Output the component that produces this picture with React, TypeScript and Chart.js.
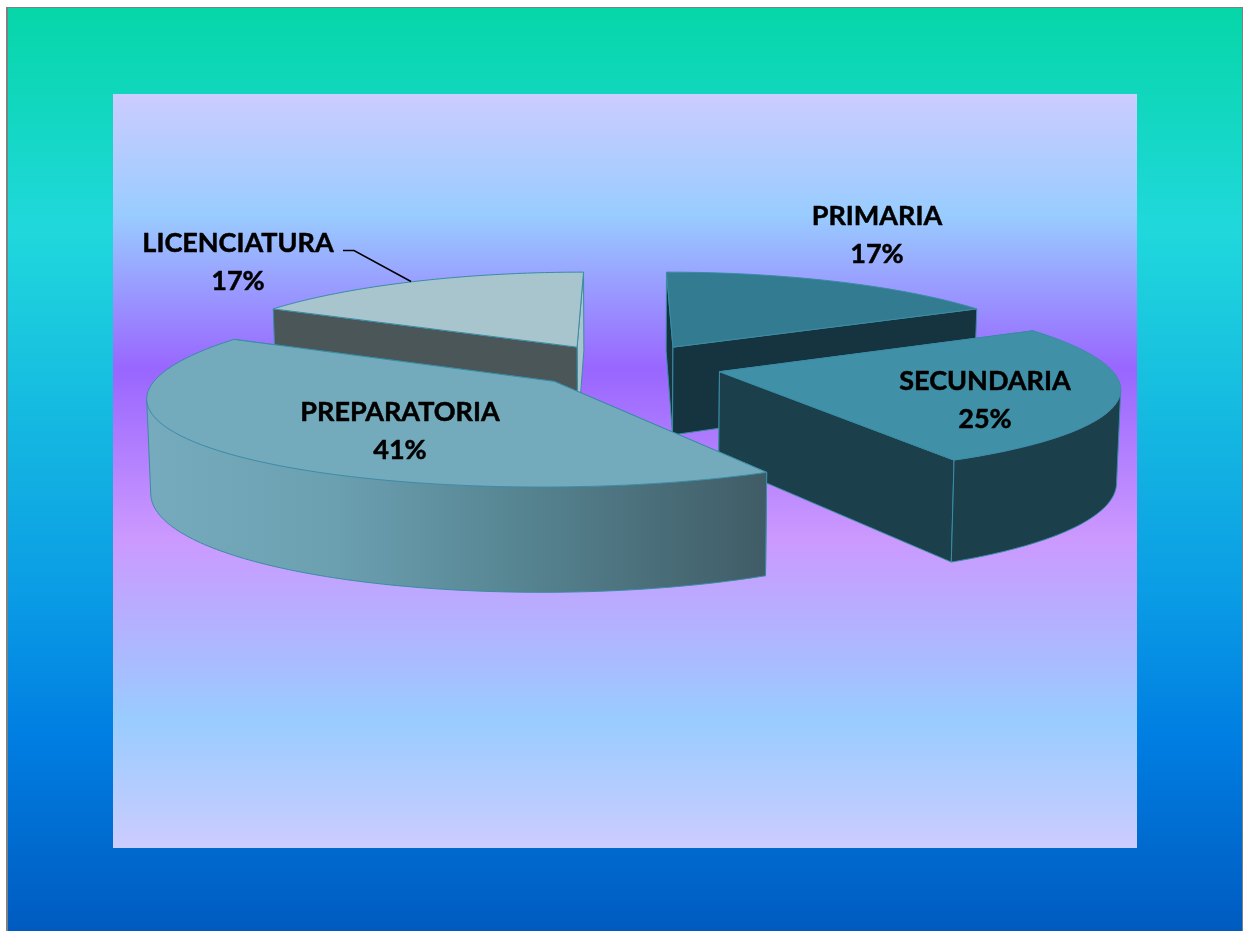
import React, { useEffect, useRef } from "react";
import { Chart, registerables } from "chart.js";

Chart.register(...registerables);

// Series
const categories = ["PRIMARIA", "SECUNDARIA", "PREPARATORIA", "LICENCIATURA"];
const shares = [17, 25, 41, 17];

// Slice styling, in the same order as the categories
const topColors = ["#337B90", "#4091A8", "#73ABBD", "#A8C5CE"];
const wallColors = ["#16343F", "#1B404B", "#73ABBD", "#4B5659"];
const innerSliverColors = ["#16343F", "#1B404B", "#73ABBD", "#A8C5CE"];
const edgeColor = "#3A8CA5";
const explode = 100;

// Label placement: centre x, vertical middle of the first line
const labelX = [877, 985, 400, 238];
const labelY = [216, 381, 412, 243];
const labelGap = 38;
const labelFont = "bold 27px Lato, sans-serif";

// Ground-plane camera used for the tilted pie
const horizonY = -355;
const depthScale = 736;
const perspective = 0.000311;
const lateralPower = 1.28;
const pivotV = -69;
const thickness = 92;
const taper = 0.0084;
const depthStretch = 1.008;

type Pt = { x: number; y: number };

function project(cx: number, u: number, v: number, drop: number): Pt {
  const s = 1 / (1 - perspective * v);
  const x = cx + u * Math.pow(s, lateralPower);
  return {
    x: x + (cx - x) * taper * drop,
    y: horizonY + depthScale * s + thickness * s * drop,
  };
}

function trace(ctx: CanvasRenderingContext2D, pts: Pt[]) {
  ctx.beginPath();
  pts.forEach((p, i) => (i ? ctx.lineTo(p.x, p.y) : ctx.moveTo(p.x, p.y)));
}

function polygon(ctx: CanvasRenderingContext2D, pts: Pt[], fill: string | CanvasGradient) {
  trace(ctx, pts);
  ctx.closePath();
  ctx.fillStyle = fill;
  ctx.fill();
  ctx.lineWidth = 1;
  ctx.strokeStyle = edgeColor;
  ctx.stroke();
}

const backdrop = {
  id: "backdrop",
  beforeDraw(chart: any) {
    const { ctx, width, height } = chart;
    const outer = ctx.createLinearGradient(0, 8, 0, height);
    outer.addColorStop(0, "#06D6A8");
    outer.addColorStop(0.24, "#20D8DC");
    outer.addColorStop(0.64, "#0A9BE5");
    outer.addColorStop(0.79, "#007EE2");
    outer.addColorStop(1, "#005BC0");
    ctx.fillStyle = "#808080";
    ctx.fillRect(6, 7, width - 6, height - 7);
    ctx.fillStyle = outer;
    ctx.fillRect(8, 8, width - 9, height - 8);

    const inner = ctx.createLinearGradient(0, 94, 0, 848);
    inner.addColorStop(0, "#CCCCFF");
    inner.addColorStop(0.16, "#99CCFF");
    inner.addColorStop(0.365, "#9966FF");
    inner.addColorStop(0.59, "#CC99FF");
    inner.addColorStop(0.83, "#99CCFF");
    inner.addColorStop(1, "#CCCCFF");
    ctx.fillStyle = inner;
    ctx.fillRect(113, 94, 1024, 754);
  },
};

const tiltedPie = {
  id: "tiltedPie",
  // The flat arcs are replaced by their extruded, foreshortened form
  beforeDatasetsDraw(chart: any) {
    const { ctx } = chart;
    const arcs = chart.getDatasetMeta(0).data;
    const paintOrder = [3, 0, 1, 2];

    for (const i of paintOrder) {
      const arc = arcs[i];
      const { x: cx, startAngle, endAngle, outerRadius: r } = arc;
      const mid = (startAngle + endAngle) / 2;
      const offset = arc.options.offset;
      const apexU = Math.cos(mid) * offset;
      const apexV = Math.sin(mid) * offset + pivotV;
      const steps = Math.ceil(((endAngle - startAngle) * 180) / Math.PI);

      const rim = (drop: number) => {
        const pts: Pt[] = [];
        for (let k = 0; k <= steps; k++) {
          const a = startAngle + ((endAngle - startAngle) * k) / steps;
          pts.push(project(cx, apexU + r * Math.cos(a), apexV + r * depthStretch * Math.sin(a), drop));
        }
        return pts;
      };

      const top = rim(0);
      const bottom = rim(1);
      const apexTop = project(cx, apexU, apexV, 0);
      const apexBottom = project(cx, apexU, apexV, 1);

      // Cut faces: the one further from the viewer goes first
      const startFace = [apexTop, top[0], bottom[0], apexBottom];
      const endFace = [apexTop, top[steps], bottom[steps], apexBottom];
      const startFirst = top[0].y <= top[steps].y;
      polygon(ctx, startFirst ? startFace : endFace, innerSliverColors[i]);
      polygon(ctx, startFirst ? endFace : startFace, wallColors[i]);

      // Curved outer wall: the stretch of rim that runs right-to-left on
      // screen is the part turned toward the viewer
      let wallFill: string | CanvasGradient = wallColors[i];
      if (categories[i] === "PREPARATORIA") {
        const g = ctx.createLinearGradient(148, 0, 772, 0);
        g.addColorStop(0, "#76ABBD");
        g.addColorStop(0.3, "#6BA0B1");
        g.addColorStop(0.6, "#568491");
        g.addColorStop(1, "#3F5B65");
        wallFill = g;
      }
      const facing: number[] = [];
      for (let k = 0; k < steps; k++) {
        if (top[k + 1].x < top[k].x && top[k + 1].y > top[k].y - 12) {
          if (!facing.length || facing[facing.length - 1] !== k) facing.push(k);
          facing.push(k + 1);
        }
      }
      const frontFacing = Math.sin(mid) > -0.5 && facing.length > 1;
      if (frontFacing) {
        const upper = facing.map((k) => top[k]);
        const lower = facing.map((k) => bottom[k]);
        trace(ctx, [...upper, ...lower.slice().reverse()]);
        ctx.closePath();
        ctx.fillStyle = wallFill;
        ctx.fill();
        trace(ctx, [upper[0], ...lower, upper[upper.length - 1]]);
        ctx.strokeStyle = edgeColor;
        ctx.lineWidth = 1;
        ctx.stroke();
      }

      // Top face
      polygon(ctx, [apexTop, ...top], arc.options.backgroundColor);
    }
    return false;
  },
  afterDraw(chart: any) {
    const { ctx } = chart;
    const total = shares.reduce((a, b) => a + b, 0);
    ctx.save();

    // Leader line for the label that sits outside its slice
    ctx.beginPath();
    ctx.moveTo(343, 250.5);
    ctx.lineTo(354, 250.5);
    ctx.lineTo(411, 281.5);
    ctx.strokeStyle = "#000000";
    ctx.lineWidth = 1.5;
    ctx.stroke();

    ctx.fillStyle = "#000000";
    ctx.strokeStyle = "#000000";
    ctx.lineWidth = 0.5;
    ctx.lineJoin = "round";
    ctx.font = labelFont;
    ctx.textAlign = "center";
    ctx.textBaseline = "middle";
    categories.forEach((name, i) => {
      const pct = `${Math.round((shares[i] / total) * 100)}%`;
      ctx.fillText(name, labelX[i], labelY[i]);
      ctx.strokeText(name, labelX[i], labelY[i]);
      ctx.fillText(pct, labelX[i], labelY[i] + labelGap);
      ctx.strokeText(pct, labelX[i], labelY[i] + labelGap);
    });
    ctx.restore();
  },
};

export default function App() {
  const ref = useRef<HTMLCanvasElement>(null);

  useEffect(() => {
    const chart = new Chart(ref.current as HTMLCanvasElement, {
      type: "pie",
      data: {
        labels: categories,
        datasets: [
          {
            data: shares,
            backgroundColor: topColors,
            offset: explode,
            borderWidth: 0,
          },
        ],
      },
      options: {
        responsive: false,
        animation: false,
        radius: 400,
        layout: { padding: { left: 7, top: 8 } },
        plugins: {
          legend: { display: false },
          title: { display: false },
          tooltip: { enabled: false },
        },
      },
      plugins: [backdrop, tiltedPie],
    } as any);
    return () => chart.destroy();
  }, []);

  return (
    <div style={{ position: "fixed", left: 0, top: 0, width: 1243, height: 931, overflow: "hidden", background: "#ffffff" }}>
      <canvas ref={ref} width={1243} height={931} style={{ display: "block" }} />
    </div>
  );
}
